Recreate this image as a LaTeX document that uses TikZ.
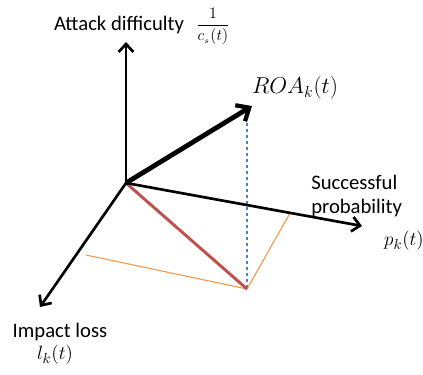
\documentclass[tikz,border=0pt]{standalone}
\usepackage{fontspec}
\setmainfont{Carlito}
\usetikzlibrary{arrows.meta, positioning}
\definecolor{roared}{RGB}{192,80,77}
\definecolor{projorange}{RGB}{247,150,70}
\definecolor{dropblue}{RGB}{79,129,189}
\tikzset{
  axisarrow/.style={-{Straight Barb[length=6pt, width=11pt, line width=2pt]}, line width=2pt, draw=black},
  roaarrow/.style={-{Straight Barb[length=8pt, width=14pt, line width=3.2pt]}, line width=3.6pt, draw=black},
  projline/.style={draw=projorange, line width=0.8pt},
  dropline/.style={draw=dropblue, line width=0.8pt, dash pattern=on 2.5pt off 2pt},
  lossline/.style={draw=roared, line width=2.2pt},
  axislabel/.style={font=\fontsize{15.5}{18}\selectfont, inner sep=0pt},
  mathlabel/.style={font=\fontsize{15}{18}\selectfont, inner sep=0pt},
}

\begin{document}
\begin{tikzpicture}[x=0.75pt, y=-0.75pt]
  \useasboundingbox (0,0) rectangle (423,374);

  % axis end points
  \coordinate (origin) at (126,183);
  \coordinate (difftip) at (126,42);
  \coordinate (probtip) at (362,226);
  \coordinate (losstip) at (40,307);
  \coordinate (roatip) at (252,106);

  % projection points
  \coordinate (probfoot) at (290,213);
  \coordinate (lossfoot) at (86,255);
  \coordinate (basept) at (247,289);
  \coordinate (droptop) at (247,123);

  % projections
  \draw[dropline] (droptop) -- (basept);
  \draw[projline] (lossfoot) -- (basept) -- (probfoot);
  \draw[lossline] (origin) -- (basept);

  % axes
  \draw[axisarrow] (origin) -- (difftip);
  \draw[axisarrow] (origin) -- (probtip);
  \draw[axisarrow] (origin) -- (losstip);
  \draw[roaarrow] (origin) -- (roatip);

  % Labels
  \node[axislabel] (difflabel) at (119,25) {Attack difficulty};
  \node[inner sep=0pt, font=\fontsize{13}{15}\selectfont] (diffmath) at (213,26)
    {$\displaystyle\frac{1}{c_{{}_s}(t)}$};
  \node[mathlabel, font=\fontsize{17.5}{21}\selectfont] (roalabel) at (295,88) {$ROA_k(t)$};
  \node[axislabel, align=left, anchor=west] (problabel) at (311,196)
    {Successful\\[0pt]probability};
  \node[mathlabel] (probmath) at (404,241) {$p_k(t)$};
  \node[axislabel] (losslabel) at (60,332) {Impact loss};
  \node[mathlabel] (lossmath) at (55,355) {$l_k(t)$};
\end{tikzpicture}
\end{document}
